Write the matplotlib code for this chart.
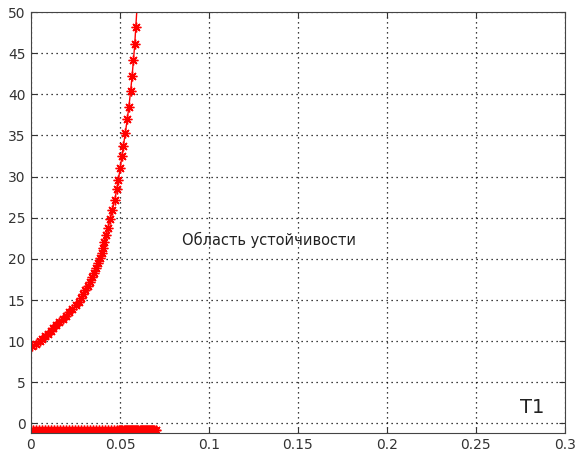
import numpy as np
import matplotlib
matplotlib.use("Agg")
import matplotlib.pyplot as plt

plt.rcParams['font.family'] = ['DejaVu Sans']

# upper branch of the stability boundary
x_up = [0.0005, 0.0027, 0.0050, 0.0064, 0.0079, 0.0093, 0.0110, 0.0126, 0.0143,
        0.0160, 0.0179, 0.0197, 0.0216, 0.0233, 0.0252, 0.0270, 0.0283, 0.0294,
        0.0306, 0.0318, 0.0329, 0.0341, 0.0352, 0.0364, 0.0376, 0.0388, 0.0397,
        0.0405, 0.0413, 0.0423, 0.0433, 0.0446, 0.0458, 0.0471, 0.0482, 0.0491,
        0.0501, 0.0511, 0.0519, 0.0530, 0.0541, 0.0550, 0.0560, 0.0568, 0.0576,
        0.0583, 0.0589, 0.0596]
y_up = [9.4, 9.7, 10.0, 10.3, 10.6, 10.9, 11.25, 11.6, 11.95,
        12.3, 12.7, 13.1, 13.5, 13.9, 14.35, 14.8, 15.25, 15.7,
        16.2, 16.7, 17.2, 17.75, 18.3, 18.85, 19.45, 20.05, 20.7,
        21.35, 22.0, 22.9, 23.8, 24.9, 26.0, 27.2, 28.5, 29.6,
        31.0, 32.5, 33.7, 35.3, 36.98, 38.5, 40.4, 42.2, 44.2,
        46.1, 48.2, 50.6]

# lower branch (T = const)
x_low = [0.0010, 0.0027, 0.0044, 0.0061, 0.0078, 0.0095, 0.0112, 0.0129, 0.0146,
         0.0163, 0.0180, 0.0197, 0.0214, 0.0231, 0.0248, 0.0265, 0.0282, 0.0299,
         0.0316, 0.0333, 0.0350, 0.0367, 0.0384, 0.0401, 0.0418, 0.0435, 0.0452,
         0.0469, 0.0486, 0.0495, 0.0502, 0.0508, 0.0514, 0.0520, 0.0526, 0.0532,
         0.0538, 0.0544, 0.0550, 0.0556, 0.0562, 0.0568, 0.0574, 0.0580, 0.0586,
         0.0592, 0.0598, 0.0604, 0.0610, 0.0616, 0.0622, 0.0628, 0.0634, 0.0640,
         0.0646, 0.0652, 0.0658, 0.0664, 0.0670, 0.0676, 0.0682, 0.0688, 0.0694,
         0.0700]
y_low_level = -0.75

xticks = [0, 0.05, 0.1, 0.15, 0.2, 0.25, 0.3]
xtick_labels = ['0', '0.05', '0.1', '0.15', '0.2', '0.25', '0.3']
yticks = [0, 5, 10, 15, 20, 25, 30, 35, 40, 45, 50]

fig = plt.figure(figsize=(5.77, 4.57), dpi=100)
ax = fig.add_axes([0.0537, 0.0536, 0.9253, 0.9201])

# matlab-style '*' marker: 8 spokes
star = (8, 2, 0)
ax.plot(x_up, y_up, '-', marker=star, color='red', lw=1, ms=7, mew=1)
ax.plot(x_low, np.full(len(x_low), y_low_level), '-', marker=star, color='red',
        lw=1.2, ms=7, mew=1.1)

ax.set_xlim(0, 0.3)
ax.set_ylim(-1.1, 50)
ax.set_xticks(xticks)
ax.set_xticklabels(xtick_labels)
ax.set_yticks(yticks)
ax.grid(True, linestyle=(0, (1, 3)), color='black', linewidth=0.9)
ax.tick_params(direction='in', length=4, top=True, right=True, labelsize=10,
               pad=4, colors='#333333')
for s in ax.spines.values():
    s.set_color('#444444')

ax.text(0.085, 22.3, 'Область устойчивости', fontsize=10.5, va='center', ha='left',
        color='#222222')
ax.text(0.275, 1.9, 'T1', fontsize=14, va='center', ha='left', color='#222222')

fig.savefig('out.png', dpi=100)
